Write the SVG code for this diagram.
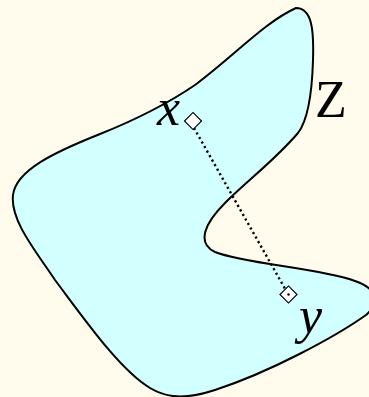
<svg xmlns="http://www.w3.org/2000/svg" width="369" height="397" viewBox="0 0 369 397">
<style>
.lbl{font-family:"Liberation Serif","DejaVu Serif",serif;font-size:52px;fill:#000}
.it{font-style:italic}
.pt{fill:#fff;stroke:#000;stroke-width:1.2}
</style>
<rect width="369" height="397" fill="#fffcee"/>
<g id="Z">
<path d="M296,8 C312,8 314,30 313,60 C312,95 308,120 298,133 C275,160 248,180 225,203 C205,223 196,243 215,252 C245,264 320,268 355,281 C375,288 382,300 366,315 C335,337 270,372 215,390 C190,398 170,400 150,388 C120,370 85,320 55,280 C35,250 10,220 13,195 C16,170 55,152 100,134 C140,118 170,102 195,85 C235,55 265,22 296,8 Z" fill="#d2ffff" stroke="#000" stroke-width="2"/>
<text class="lbl" x="315" y="117">Z</text>
</g>
<g id="connectors">
<line x1="194" y1="128" x2="288" y2="294" stroke="#000" stroke-width="2.4" stroke-dasharray="2.2 3"/>
</g>
<g id="x">
<rect class="pt" x="187" y="115" width="12" height="12" transform="rotate(45 193 121)"/>
<text class="lbl it" x="157" y="125">x</text>
</g>
<g id="y">
<rect class="pt" x="282.5" y="288.5" width="12" height="12" transform="rotate(45 288.5 294.5)"/>
<circle cx="288.5" cy="294.5" r="1.2" fill="#000"/>
<text class="lbl it" x="299" y="333">y</text>
</g>
</svg>
